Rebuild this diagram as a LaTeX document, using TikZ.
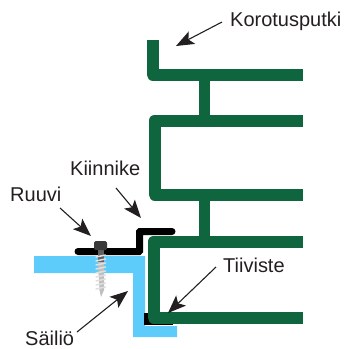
\documentclass[tikz,border=0pt]{standalone}
\usepackage{fontspec}
\setmainfont{Liberation Sans}
\usetikzlibrary{arrows.meta}
\definecolor{pipegreen}{RGB}{15,101,61}
\definecolor{tankblue}{RGB}{94,204,250}
\definecolor{labelgray}{RGB}{35,31,32}
\tikzset{
  pipe/.style={draw=pipegreen, line width=12pt, line join=round},
  clip bar/.style={draw=black, line width=7pt, line cap=round, rounded corners=0.5pt},
  label/.style={font=\fontsize{20}{22}\selectfont, text=labelgray, inner sep=0pt, anchor=base west},
  pointer/.style={draw=labelgray, line width=1.1pt, -{Stealth[length=18pt, width=14pt, inset=4pt]}}
}
\begin{document}
\begin{tikzpicture}[x=1pt, y=-1pt]
    \useasboundingbox (0,0) rectangle (349,349);
    
    % tank
    \fill[tankblue] (34,256) -- (145,256) -- (145,326) -- (177,326) -- (177,337) -- (133,337) -- (133,273) -- (34,273) -- cycle;
    
    % pipe sections
    \draw[pipe] (152.5,40) -- (152.5,74.5) -- (303,74.5);
    \draw[pipe] (303,120.5) -- (154.5,120.5) -- (154.5,194.5) -- (303,194.5);
    \fill[black] (144,313) rectangle (173,325);
    \draw[pipe] (303,241.5) -- (153.5,241.5) -- (153.5,317.5) -- (303,317.5);
    \draw[pipe, line width=11pt] (204,74.5) -- (204,120.5);
    \draw[pipe, line width=11pt] (204,194.5) -- (204,241.5);
    
    % bracket
    \draw[clip bar] (78,251.5) -- (139.5,251.5) -- (139.5,231.5) -- (172,231.5);
    
    % screw
    \fill[gray!75!black] (98,249) rectangle (104,264);
    \fill[gray!50] (98,262) -- (104,262) -- (104,290) -- (101,297) -- (99.5,290) -- cycle;
    \foreach \y in {256,260,...,288} {
      \draw[gray!25!white, line width=1.5pt, line cap=round] (96,\y+1) -- (105.5,\y-1);
    }
    \fill[gray!45!black, rounded corners=1.5pt] (94,241) rectangle (107,250);
    
    % labels
    \node[label] (korotusputki) at (230,26) {Korotusputki};
    \node[label] (kiinnike) at (70,175) {Kiinnike};
    \node[label] (ruuvi) at (10,201) {Ruuvi};
    \node[label] (tiiviste) at (223,272) {Tiiviste};
    \node[label] (sailio) at (25,345) {Säiliö};
    
    % arrow ends
    \coordinate (korotusputki1) at (222,22);
    \coordinate (korotusputki2) at (176,46);
    \coordinate (kiinnike1) at (116,188);
    \coordinate (kiinnike2) at (141,218);
    \coordinate (ruuvi1) at (60,208);
    \coordinate (ruuvi2) at (91,236);
    \coordinate (tiiviste1) at (216,267);
    \coordinate (tiiviste2) at (168,313);
    \coordinate (sailio1) at (77,332);
    \coordinate (sailio2) at (128,291);
    
    \draw[pointer] (korotusputki1) -- (korotusputki2);
    \draw[pointer] (kiinnike1) -- (kiinnike2);
    \draw[pointer] (ruuvi1) -- (ruuvi2);
    \draw[pointer] (tiiviste1) -- (tiiviste2);
    \draw[pointer] (sailio1) -- (sailio2);
\end{tikzpicture}
\end{document}
